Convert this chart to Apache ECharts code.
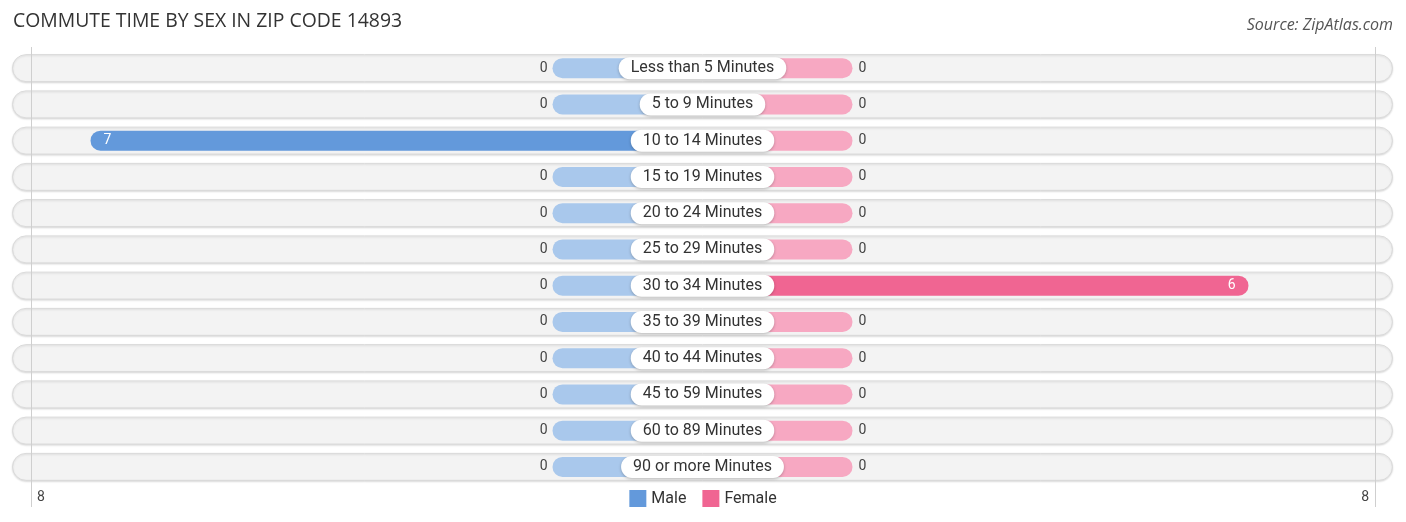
<!DOCTYPE html>
<html>
<head>
<meta charset="utf-8">
<script src="https://cdn.jsdelivr.net/npm/echarts@6/dist/echarts.min.js"></script>
<style>
html,body{margin:0;padding:0;background:#fff;}
#c{width:1406px;height:522px;}
</style>
</head>
<body>
<div id="c"></div>
<script>
var categories = ["Less than 5 Minutes","5 to 9 Minutes","10 to 14 Minutes","15 to 19 Minutes","20 to 24 Minutes","25 to 29 Minutes","30 to 34 Minutes","35 to 39 Minutes","40 to 44 Minutes","45 to 59 Minutes","60 to 89 Minutes","90 or more Minutes"];
var maleValues = [0,0,7,0,0,0,0,0,0,0,0,0];
var femaleValues = [0,0,0,0,0,0,6,0,0,0,0,0];
var axisMax = 8;

var STUB = 150/66;      // minimum visible bar length (in value units)
var HALF = 690.5/66;    // half width of the row area (in value units)

var MALE = '#6399db', MALE_L = '#a9c8ec';
var FEMALE = '#f06592', FEMALE_L = '#f7a8c2';
var FONT = 'Roboto, "Noto Sans", sans-serif';

var maleData = maleValues.map(function(v){
  return {
    value: -(STUB + v), raw: v,
    itemStyle: {color: v > 0 ? MALE : MALE_L},
    label: {position: v > 0 ? 'insideLeft' : 'left', distance: v > 0 ? 13 : 5, color: v > 0 ? '#fff' : '#444'}
  };
});
var femaleData = femaleValues.map(function(v){
  return {
    value: STUB + v, raw: v,
    itemStyle: {color: v > 0 ? FEMALE : FEMALE_L},
    label: {position: v > 0 ? 'insideRight' : 'right', distance: v > 0 ? 13 : 6, color: v > 0 ? '#fff' : '#444'}
  };
});

var chart = echarts.init(document.getElementById('c'));
chart.setOption({
  animation: false,
  textStyle: {fontFamily: FONT},
  title: [
    {text: 'COMMUTE TIME BY SEX IN ZIP CODE 14893', left: 8, top: 7,
     textStyle: {fontSize: 19.4, fontWeight: 'normal', color: '#333', fontFamily: '"Open Sans", sans-serif'}},
    {text: 'Source: ZipAtlas.com', right: 8, top: 12,
     textStyle: {fontSize: 16, fontWeight: 'normal', fontStyle: 'italic', color: '#555', fontFamily: '"Open Sans", sans-serif'}}
  ],
  legend: {
    data: ['Male', 'Female'], bottom: 10, left: 'center', icon: 'rect',
    itemWidth: 17, itemHeight: 17, itemGap: 16,
    textStyle: {fontSize: 16, color: '#333', fontFamily: FONT}
  },
  grid: [
    {left: 12, right: 13, top: 50, height: 435},
    {left: 31, right: 31, top: 47, bottom: 15}
  ],
  xAxis: [
    {gridIndex: 0, type: 'value', min: -HALF, max: HALF, show: false},
    {gridIndex: 0, type: 'value', min: 0, max: 1, show: false, position: 'top'},
    {gridIndex: 1, type: 'value', min: -axisMax, max: axisMax, interval: axisMax, z: 3,
     axisLine: {show: false}, axisTick: {show: false},
     splitLine: {show: true, lineStyle: {color: ['#cfcfcf', 'rgba(0,0,0,0)', '#cfcfcf'], width: 1}},
     axisLabel: {inside: true, margin: 3, fontSize: 14, color: '#444', alignMinLabel: 'left', alignMaxLabel: 'right',
       padding: [0, 6, 0, 6],
       formatter: function(v){ return v === 0 ? '' : String(Math.abs(v)); }}}
  ],
  yAxis: [
    {gridIndex: 0, type: 'category', data: categories, inverse: true, show: false},
    {gridIndex: 0, type: 'category', data: categories, inverse: true, show: false},
    {gridIndex: 1, type: 'value', show: false}
  ],
  series: [
    {
      name: 'row', type: 'bar', xAxisIndex: 1, yAxisIndex: 1, z: 1,
      barWidth: 28, silent: true,
      data: categories.map(function(){ return 1; }),
      itemStyle: {color: '#f3f3f3', borderColor: '#dadada', borderWidth: 1, borderRadius: 14,
        shadowBlur: 2, shadowColor: 'rgba(0,0,0,0.12)', shadowOffsetY: 1}
    },
    {
      name: 'Male', type: 'bar', xAxisIndex: 0, yAxisIndex: 0, stack: 'total', z: 4,
      barWidth: 20, data: maleData,
      itemStyle: {color: MALE, borderRadius: 10},
      label: {show: true, fontSize: 14, fontFamily: FONT,
        formatter: function(p){ return String(p.data.raw); }}
    },
    {
      name: 'Female', type: 'bar', xAxisIndex: 0, yAxisIndex: 0, stack: 'total', z: 4,
      barWidth: 20, data: femaleData,
      itemStyle: {color: FEMALE, borderRadius: 10},
      label: {show: true, fontSize: 14, fontFamily: FONT,
        formatter: function(p){ return String(p.data.raw); }}
    },
    {
      name: 'cat', type: 'scatter', xAxisIndex: 0, yAxisIndex: 0, z: 6, silent: true,
      symbolSize: 0, itemStyle: {opacity: 1},
      data: categories.map(function(c){ return [0, c]; }),
      label: {show: true, position: 'inside', formatter: function(p){ return p.data[1]; },
        fontSize: 16, color: '#333', fontFamily: FONT, opacity: 1,
        backgroundColor: '#fff', borderRadius: 11, padding: [3, 12], lineHeight: 16,
        shadowBlur: 3, shadowColor: 'rgba(0,0,0,0.25)', shadowOffsetY: 1}
    }
  ]
});
</script>
</body>
</html>
